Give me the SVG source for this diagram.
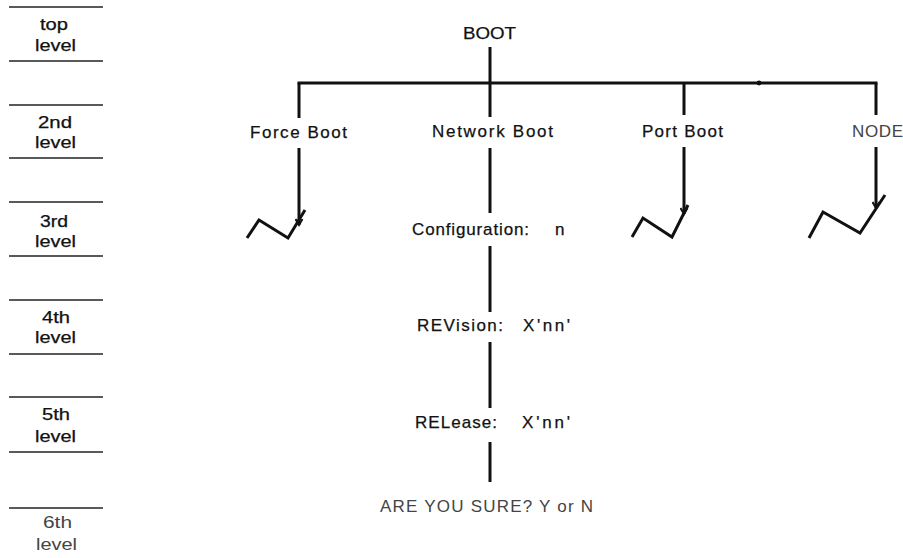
<svg xmlns="http://www.w3.org/2000/svg" width="903" height="558" viewBox="0 0 903 558">
<style>
  .lv { stroke:#222; stroke-width:1.6; fill:none; }
  .ln { stroke:#111; stroke-width:3; fill:none; stroke-linecap:butt; }
  .zz { stroke:#111; stroke-width:3; fill:none; stroke-linejoin:miter; }
  text { font-family:"Liberation Sans", Arial, sans-serif; fill:#111; stroke:#111; stroke-width:0.25; }
  .lab { font-size:16px; }
  .main { font-size:17px; }
  .light { fill:#444; stroke:none; }
</style>
<defs>
  <marker id="ah" markerWidth="9" markerHeight="9" refX="7" refY="4.5" orient="auto" markerUnits="userSpaceOnUse">
    <path d="M1,1 L7,4.5 L1,8" fill="none" stroke="#111" stroke-width="2"/>
  </marker>
</defs>
<rect width="903" height="558" fill="#fff"/>

<g id="levels">
  <g class="lv">
    <line x1="9" y1="7" x2="103" y2="7"/><line x1="9" y1="61" x2="103" y2="61"/>
    <line x1="9" y1="105" x2="103" y2="105"/><line x1="9" y1="158" x2="103" y2="158"/>
    <line x1="9" y1="202" x2="103" y2="202"/><line x1="9" y1="256" x2="103" y2="256"/>
    <line x1="9" y1="300" x2="103" y2="300"/><line x1="9" y1="354" x2="103" y2="354"/>
    <line x1="9" y1="397" x2="103" y2="397"/><line x1="9" y1="452" x2="103" y2="452"/>
    <line x1="9" y1="508" x2="103" y2="508"/>
  </g>
  <text class="lab" x="40" y="30" textLength="28" lengthAdjust="spacingAndGlyphs">top</text>
  <text class="lab" x="35" y="51" textLength="41" lengthAdjust="spacingAndGlyphs">level</text>
  <text class="lab" x="38" y="128" textLength="34" lengthAdjust="spacingAndGlyphs">2nd</text>
  <text class="lab" x="35" y="148" textLength="41" lengthAdjust="spacingAndGlyphs">level</text>
  <text class="lab" x="40" y="227" textLength="28" lengthAdjust="spacingAndGlyphs">3rd</text>
  <text class="lab" x="35" y="247" textLength="41" lengthAdjust="spacingAndGlyphs">level</text>
  <text class="lab" x="42" y="323" textLength="28" lengthAdjust="spacingAndGlyphs">4th</text>
  <text class="lab" x="35" y="343" textLength="41" lengthAdjust="spacingAndGlyphs">level</text>
  <text class="lab" x="42" y="420" textLength="28" lengthAdjust="spacingAndGlyphs">5th</text>
  <text class="lab" x="35" y="442" textLength="41" lengthAdjust="spacingAndGlyphs">level</text>
  <text class="lab light" x="43" y="528" textLength="29" lengthAdjust="spacingAndGlyphs">6th</text>
  <text class="lab light" x="36" y="550" textLength="41" lengthAdjust="spacingAndGlyphs">level</text>
</g>

<g id="connectors">
  <line class="ln" x1="490" y1="47" x2="490" y2="83"/>
  <line class="ln" x1="297.5" y1="83" x2="877.5" y2="83"/>
  <circle cx="759" cy="83" r="2.4" fill="#111"/>
  <line class="ln" x1="299" y1="83" x2="299" y2="118"/>
  <line class="ln" x1="490" y1="83" x2="490" y2="117"/>
  <line class="ln" x1="684" y1="83" x2="684" y2="115"/>
  <line class="ln" x1="876" y1="83" x2="876" y2="115"/>
  <line class="ln" x1="299" y1="148" x2="299" y2="225" marker-end="url(#ah)"/>
  <line class="ln" x1="684" y1="147" x2="684" y2="214" marker-end="url(#ah)"/>
  <line class="ln" x1="876" y1="147" x2="876" y2="208" marker-end="url(#ah)"/>
  <line class="ln" x1="490" y1="148" x2="490" y2="213"/>
  <line class="ln" x1="490" y1="246" x2="490" y2="312"/>
  <line class="ln" x1="490" y1="342" x2="490" y2="408"/>
  <line class="ln" x1="490" y1="442" x2="490" y2="482"/>
</g>

<g id="boot"><text class="main" x="463" y="39" textLength="53" lengthAdjust="spacingAndGlyphs">BOOT</text></g>
<g id="force-boot">
  <text class="main" x="250" y="138" textLength="97" lengthAdjust="spacing">Force Boot</text>
  <polyline class="zz" points="247,238 259,220 288,238 305,210"/>
</g>
<g id="network-boot"><text class="main" x="432" y="137" textLength="121" lengthAdjust="spacing">Network Boot</text></g>
<g id="port-boot">
  <text class="main" x="642" y="137" textLength="81" lengthAdjust="spacing">Port Boot</text>
  <polyline class="zz" points="632,237 643,218 672,237 688,205"/>
</g>
<g id="node">
  <text class="main light" x="852" y="137" textLength="51" lengthAdjust="spacing">NODE</text>
  <polyline class="zz" points="809,238 823,212 860,233 885,195"/>
</g>
<g id="configuration">
  <text class="main"><tspan x="412" y="235" textLength="117" lengthAdjust="spacing">Configuration:</tspan><tspan x="555" y="235">n</tspan></text>
</g>
<g id="revision">
  <text class="main"><tspan x="417" y="331" textLength="86" lengthAdjust="spacing">REVision:</tspan><tspan x="523" y="331" textLength="47" lengthAdjust="spacing">X'nn'</tspan></text>
</g>
<g id="release">
  <text class="main"><tspan x="415" y="428" textLength="82" lengthAdjust="spacing">RELease:</tspan><tspan x="522" y="428" textLength="48" lengthAdjust="spacing">X'nn'</tspan></text>
</g>
<g id="are-you-sure">
  <text class="main light" x="380" y="512" textLength="213" lengthAdjust="spacing">ARE YOU SURE? Y or N</text>
</g>
</svg>
